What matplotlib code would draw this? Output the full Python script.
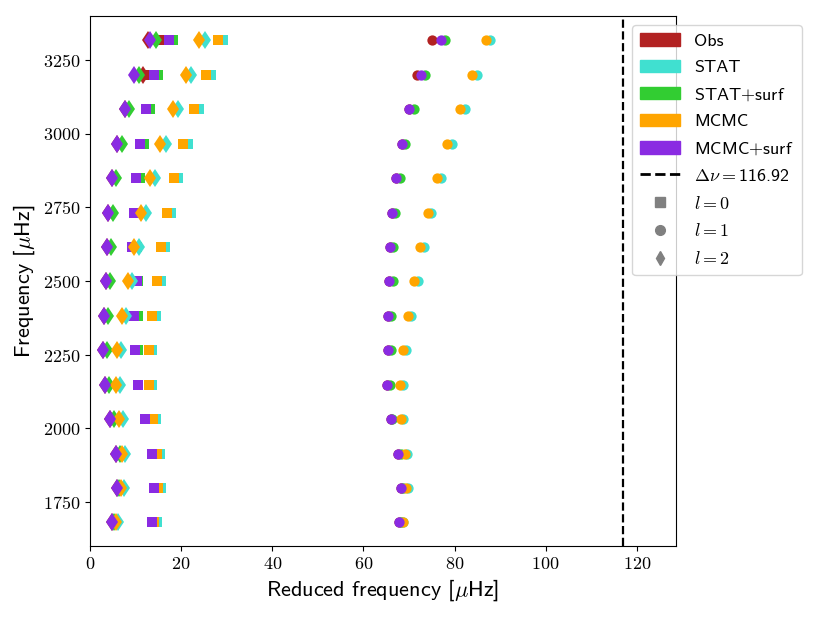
import matplotlib
matplotlib.use("Agg")
import matplotlib.pyplot as plt
from matplotlib.patches import Patch
from matplotlib.lines import Line2D
from matplotlib.ticker import FuncFormatter

plt.rcParams['mathtext.fontset'] = 'cm'
plt.rcParams['font.family'] = ['cmss10', 'DejaVu Sans']
plt.rcParams['axes.unicode_minus'] = False

delta_nu = 116.92

# Row frequencies (y) from bottom to top
row_freq = [1680.2, 1797.1, 1914.0, 2031.0, 2147.9, 2264.8, 2381.7, 2498.6,
            2615.6, 2732.5, 2849.4, 2966.3, 3083.2, 3200.2, 3317.1]

series_names = ['Obs', 'STAT', r'STAT$+$surf', 'MCMC', r'MCMC$+$surf']
series_colors = ['#b22222', '#40e0d0', '#32cd32', '#ffa500', '#8a2be2']

# l = 0 reduced frequencies (bottom to top)
obs_l0 = [13.6, 14.1, 13.7, 12.0, 10.5, 9.9, 9.7, 10.3, 9.2, 9.6, 10.1, 10.9, 12.2, 12.9, 15.8]
stat_l0 = [14.6, 15.5, 15.4, 14.4, 13.6, 13.7, 14.4, 15.5, 16.4, 17.7, 19.4, 21.5, 23.9, 26.5, 29.2]
statsurf_l0 = [13.8, 14.3, 13.9, 12.2, 10.6, 10.5, 10.5, 10.5, 10.4, 10.2, 10.9, 11.9, 13.1, 14.9, 18.2]
mcmc_l0 = [14.1, 15.0, 14.8, 13.9, 12.9, 12.9, 13.7, 14.6, 15.6, 16.8, 18.5, 20.5, 22.9, 25.4, 28.1]
mcmcsurf_l0 = [13.6, 14.1, 13.7, 12.0, 10.5, 9.9, 9.7, 10.3, 9.2, 9.6, 10.1, 10.9, 12.2, 14.1, 17.4]

# l = 1
obs_l1 = [67.8, 68.2, 67.5, 66.1, 65.2, 65.3, 65.5, 65.6, 65.8, 66.2, 67.2, 68.4, 70.1, 71.7, 75.1]
stat_l1 = [68.8, 69.7, 69.5, 68.6, 68.6, 69.4, 70.5, 71.9, 73.2, 74.9, 77.0, 79.5, 82.2, 85.0, 87.7]
statsurf_l1 = [68.2, 68.8, 68.3, 66.3, 65.8, 66.0, 66.1, 66.4, 66.6, 67.0, 68.0, 69.2, 71.0, 73.6, 78.0]
mcmc_l1 = [68.7, 69.4, 69.1, 68.2, 68.0, 68.8, 69.8, 71.0, 72.4, 74.1, 76.1, 78.4, 81.1, 83.9, 86.8]
mcmcsurf_l1 = [67.8, 68.2, 67.5, 66.1, 65.2, 65.3, 65.5, 65.6, 65.8, 66.2, 67.2, 68.4, 70.1, 72.7, 77.1]

# l = 2
obs_l2 = [4.9, 5.9, 5.7, 4.4, 3.3, 2.8, 3.1, 3.5, 3.7, 4.0, 4.8, 6.0, 7.6, 11.6, 12.8]
stat_l2 = [6.1, 7.4, 7.7, 7.2, 6.6, 6.9, 7.9, 9.2, 10.7, 12.2, 14.2, 16.7, 19.3, 22.2, 25.2]
statsurf_l2 = [5.3, 6.3, 6.5, 5.2, 4.1, 3.7, 4.0, 4.4, 4.7, 5.0, 5.8, 7.0, 8.6, 10.8, 14.4]
mcmc_l2 = [5.6, 6.9, 7.0, 6.4, 5.7, 5.9, 7.0, 8.3, 9.6, 11.2, 13.1, 15.4, 18.2, 21.0, 24.0]
mcmcsurf_l2 = [4.9, 5.9, 5.7, 4.4, 3.3, 2.8, 3.1, 3.5, 3.7, 4.0, 4.8, 6.0, 7.6, 9.7, 13.2]

l_values = [0, 1, 2]
l_markers = ['s', 'o', 'd']
l_sizes = [7.2, 7.4, 9.5]
data = {
    0: [obs_l0, stat_l0, statsurf_l0, mcmc_l0, mcmcsurf_l0],
    1: [obs_l1, stat_l1, statsurf_l1, mcmc_l1, mcmcsurf_l1],
    2: [obs_l2, stat_l2, statsurf_l2, mcmc_l2, mcmcsurf_l2],
}

fig = plt.figure(figsize=(8.22, 6.17), dpi=100)
ax = fig.add_axes([0.1095, 0.1151, 0.7129, 0.8589])

for l, mk, ms in zip(l_values, l_markers, l_sizes):
    for vals, col in zip(data[l], series_colors):
        ax.plot(vals, row_freq, ls='', marker=mk, color=col, ms=ms, mew=0)

ax.axvline(delta_nu, color='k', ls='--', lw=1.6)
ax.set_xlim(0, 1.1 * delta_nu)
ax.set_ylim(1600, 3400)
ax.set_xticks([0, 20, 40, 60, 80, 100, 120])
ax.set_yticks([1750, 2000, 2250, 2500, 2750, 3000, 3250])
fmt = FuncFormatter(lambda v, p: r'$%d$' % int(round(v)))
ax.xaxis.set_major_formatter(fmt)
ax.yaxis.set_major_formatter(fmt)
ax.tick_params(labelsize=13)
ax.set_xlabel(r'Reduced frequency [$\mu$Hz]', fontsize=16)
ax.set_ylabel(r'Frequency [$\mu$Hz]', fontsize=16)

handles = [Patch(color=c, label=n) for c, n in zip(series_colors, series_names)]
handles.append(Line2D([], [], color='k', ls='--', lw=2, label=r'$\Delta\nu{=}$116.92'))
for l, mk in zip(l_values, l_markers):
    handles.append(Line2D([], [], color='gray', ls='', marker=mk, ms=7, label=r'$l=%d$' % l))
ax.legend(handles=handles, loc='upper left', bbox_to_anchor=(0.925, 0.983),
          borderaxespad=0, fontsize=13, handlelength=2.2, labelspacing=0.6,
          borderpad=0.45)

fig.savefig('out.png', dpi=100)
